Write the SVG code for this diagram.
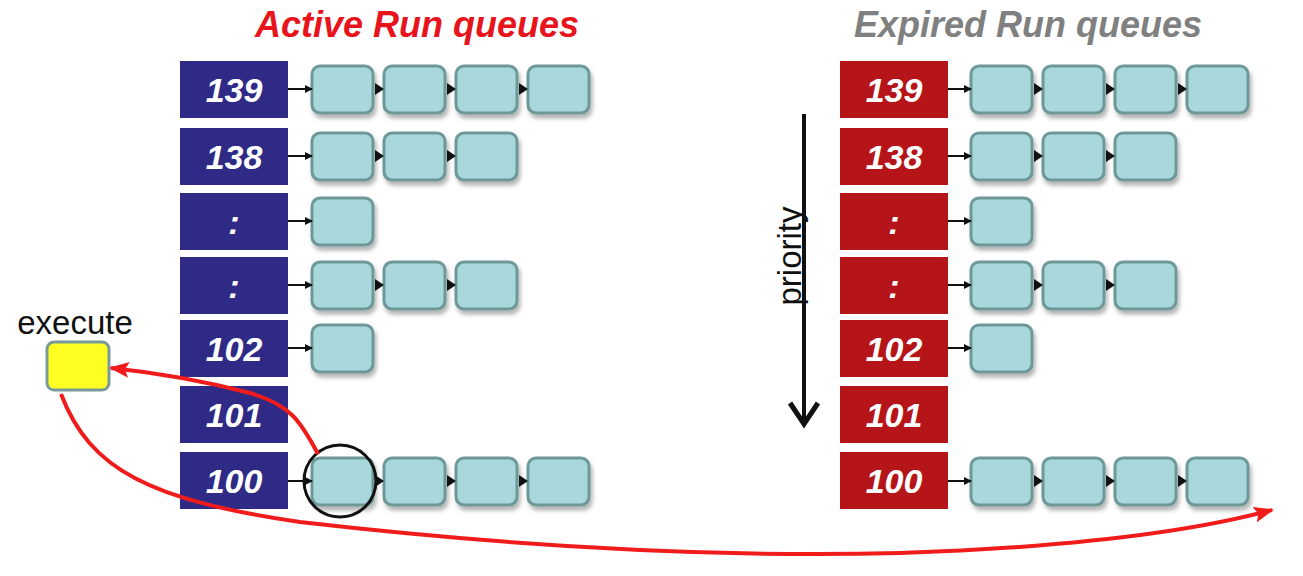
<svg xmlns="http://www.w3.org/2000/svg" width="1303" height="576" viewBox="0 0 1303 576">
<defs>
<style>
.title{font-family:"Liberation Sans",Arial,sans-serif;font-weight:bold;font-style:italic;font-size:36px;text-anchor:middle}
.pa{fill:#2e2a86}
.pe{fill:#b51418}
.num{font-family:"Liberation Sans",Arial,sans-serif;font-weight:bold;font-style:italic;font-size:34px;fill:#fff;text-anchor:middle}
.node{fill:#a8d8dc;stroke:#6e9898;stroke-width:3;filter:url(#sh)}
.lnk{stroke:#111;stroke-width:2;fill:none}
.lbl{font-family:"Liberation Sans",Arial,sans-serif;font-size:33px;fill:#111}
</style>
<filter id="sh" x="-20%" y="-20%" width="150%" height="160%">
<feDropShadow dx="2" dy="4" stdDeviation="2" flood-color="#000" flood-opacity="0.3"/>
</filter>
<marker id="ah" markerWidth="8" markerHeight="8" refX="7" refY="4" orient="auto" markerUnits="userSpaceOnUse">
<path d="M0,0 L8,4 L0,8 z" fill="#111"/>
</marker>
<marker id="ra" markerWidth="20" markerHeight="16" refX="18" refY="8" orient="auto" markerUnits="userSpaceOnUse">
<path d="M0,0 L20,8 L0,16 L4,8 z" fill="#f01c1c"/>
</marker>
</defs>
<rect width="1303" height="576" fill="#fff"/>

<text class="title" x="417" y="37" fill="#e8141c">Active Run queues</text>
<text class="title" x="1028" y="37" fill="#808080">Expired Run queues</text>

<g id="active">
<g id="a139"><rect class="pa" x="180" y="61" width="108" height="57"/><text class="num" x="234" y="102">139</text></g>
<g id="a138"><rect class="pa" x="180" y="128" width="108" height="57"/><text class="num" x="234" y="169">138</text></g>
<g id="a_c1"><rect class="pa" x="180" y="193" width="108" height="57"/><text class="num" x="234" y="234">:</text></g>
<g id="a_c2"><rect class="pa" x="180" y="257" width="108" height="57"/><text class="num" x="234" y="298">:</text></g>
<g id="a102"><rect class="pa" x="180" y="320" width="108" height="57"/><text class="num" x="234" y="361">102</text></g>
<g id="a101"><rect class="pa" x="180" y="386" width="108" height="57"/><text class="num" x="234" y="427">101</text></g>
<g id="a100"><rect class="pa" x="180" y="452" width="108" height="57"/><text class="num" x="234" y="493">100</text></g>
</g>

<g id="expired">
<g id="e139"><rect class="pe" x="840" y="61" width="108" height="57"/><text class="num" x="894" y="102">139</text></g>
<g id="e138"><rect class="pe" x="840" y="128" width="108" height="57"/><text class="num" x="894" y="169">138</text></g>
<g id="e_c1"><rect class="pe" x="840" y="193" width="108" height="57"/><text class="num" x="894" y="234">:</text></g>
<g id="e_c2"><rect class="pe" x="840" y="257" width="108" height="57"/><text class="num" x="894" y="298">:</text></g>
<g id="e102"><rect class="pe" x="840" y="320" width="108" height="57"/><text class="num" x="894" y="361">102</text></g>
<g id="e101"><rect class="pe" x="840" y="386" width="108" height="57"/><text class="num" x="894" y="427">101</text></g>
<g id="e100"><rect class="pe" x="840" y="452" width="108" height="57"/><text class="num" x="894" y="493">100</text></g>
</g>

<g id="active-nodes">
<rect class="node" x="312" y="66" width="61" height="47" rx="8"/><rect class="node" x="384" y="66" width="61" height="47" rx="8"/><rect class="node" x="456" y="66" width="61" height="47" rx="8"/><rect class="node" x="528" y="66" width="61" height="47" rx="8"/>
<rect class="node" x="312" y="133" width="61" height="47" rx="8"/><rect class="node" x="384" y="133" width="61" height="47" rx="8"/><rect class="node" x="456" y="133" width="61" height="47" rx="8"/>
<rect class="node" x="312" y="198" width="61" height="47" rx="8"/>
<rect class="node" x="312" y="262" width="61" height="47" rx="8"/><rect class="node" x="384" y="262" width="61" height="47" rx="8"/><rect class="node" x="456" y="262" width="61" height="47" rx="8"/>
<rect class="node" x="312" y="325" width="61" height="47" rx="8"/>
<rect class="node" x="312" y="458" width="61" height="47" rx="8"/><rect class="node" x="384" y="458" width="61" height="47" rx="8"/><rect class="node" x="456" y="458" width="61" height="47" rx="8"/><rect class="node" x="528" y="458" width="61" height="47" rx="8"/>
</g>

<g id="expired-nodes">
<rect class="node" x="971" y="66" width="61" height="47" rx="8"/><rect class="node" x="1043" y="66" width="61" height="47" rx="8"/><rect class="node" x="1115" y="66" width="61" height="47" rx="8"/><rect class="node" x="1187" y="66" width="61" height="47" rx="8"/>
<rect class="node" x="971" y="133" width="61" height="47" rx="8"/><rect class="node" x="1043" y="133" width="61" height="47" rx="8"/><rect class="node" x="1115" y="133" width="61" height="47" rx="8"/>
<rect class="node" x="971" y="198" width="61" height="47" rx="8"/>
<rect class="node" x="971" y="262" width="61" height="47" rx="8"/><rect class="node" x="1043" y="262" width="61" height="47" rx="8"/><rect class="node" x="1115" y="262" width="61" height="47" rx="8"/>
<rect class="node" x="971" y="325" width="61" height="47" rx="8"/>
<rect class="node" x="971" y="458" width="61" height="47" rx="8"/><rect class="node" x="1043" y="458" width="61" height="47" rx="8"/><rect class="node" x="1115" y="458" width="61" height="47" rx="8"/><rect class="node" x="1187" y="458" width="61" height="47" rx="8"/>
</g>

<g id="execute">
<text class="lbl" x="75" y="334" text-anchor="middle">execute</text>
<rect x="47" y="342" width="62" height="48" rx="7" fill="#ffff22" stroke="#7a9a9a" stroke-width="3"/>
</g>

<g id="priority">
<line x1="804" y1="114" x2="804" y2="422" stroke="#111" stroke-width="4"/>
<path d="M790,403 L804,424 L818,403" fill="none" stroke="#111" stroke-width="5"/>
<text class="lbl" transform="translate(801,256) rotate(-90)" text-anchor="middle" font-size="35">priority</text>
</g>

<g id="connectors">
<g class="lnk">
<line x1="288" y1="89" x2="312" y2="89" marker-end="url(#ah)"/>
<line x1="288" y1="156" x2="312" y2="156" marker-end="url(#ah)"/>
<line x1="288" y1="221" x2="312" y2="221" marker-end="url(#ah)"/>
<line x1="288" y1="285" x2="312" y2="285" marker-end="url(#ah)"/>
<line x1="288" y1="348" x2="312" y2="348" marker-end="url(#ah)"/>
<line x1="288" y1="481" x2="312" y2="481" marker-end="url(#ah)"/>
<line x1="948" y1="89" x2="971" y2="89" marker-end="url(#ah)"/>
<line x1="948" y1="156" x2="971" y2="156" marker-end="url(#ah)"/>
<line x1="948" y1="221" x2="971" y2="221" marker-end="url(#ah)"/>
<line x1="948" y1="285" x2="971" y2="285" marker-end="url(#ah)"/>
<line x1="948" y1="348" x2="971" y2="348" marker-end="url(#ah)"/>
<line x1="948" y1="481" x2="971" y2="481" marker-end="url(#ah)"/>
</g>
<g fill="#111">
<path d="M375,83 L384,89 L375,95 z"/><path d="M447,83 L456,89 L447,95 z"/><path d="M519,83 L528,89 L519,95 z"/>
<path d="M375,150 L384,156 L375,162 z"/><path d="M447,150 L456,156 L447,162 z"/>
<path d="M375,279 L384,285 L375,291 z"/><path d="M447,279 L456,285 L447,291 z"/>
<path d="M375,475 L384,481 L375,487 z"/><path d="M447,475 L456,481 L447,487 z"/><path d="M519,475 L528,481 L519,487 z"/>
<path d="M1034,83 L1043,89 L1034,95 z"/><path d="M1106,83 L1115,89 L1106,95 z"/><path d="M1178,83 L1187,89 L1178,95 z"/>
<path d="M1034,150 L1043,156 L1034,162 z"/><path d="M1106,150 L1115,156 L1106,162 z"/>
<path d="M1034,279 L1043,285 L1034,291 z"/><path d="M1106,279 L1115,285 L1106,291 z"/>
<path d="M1034,475 L1043,481 L1034,487 z"/><path d="M1106,475 L1115,481 L1106,487 z"/><path d="M1178,475 L1187,481 L1178,487 z"/>
</g>
<circle cx="340" cy="481" r="36" fill="none" stroke="#111" stroke-width="3"/>
<path d="M318,454 C300,420 290,405 250,393 C200,380 150,372 111,368" fill="none" stroke="#f01c1c" stroke-width="4" marker-end="url(#ra)"/>
<path d="M61,394 C90,470 150,500 300,522 C500,545 700,558 900,553 C1050,548 1180,535 1272,510" fill="none" stroke="#f01c1c" stroke-width="4" marker-end="url(#ra)"/>
</g>
</svg>
